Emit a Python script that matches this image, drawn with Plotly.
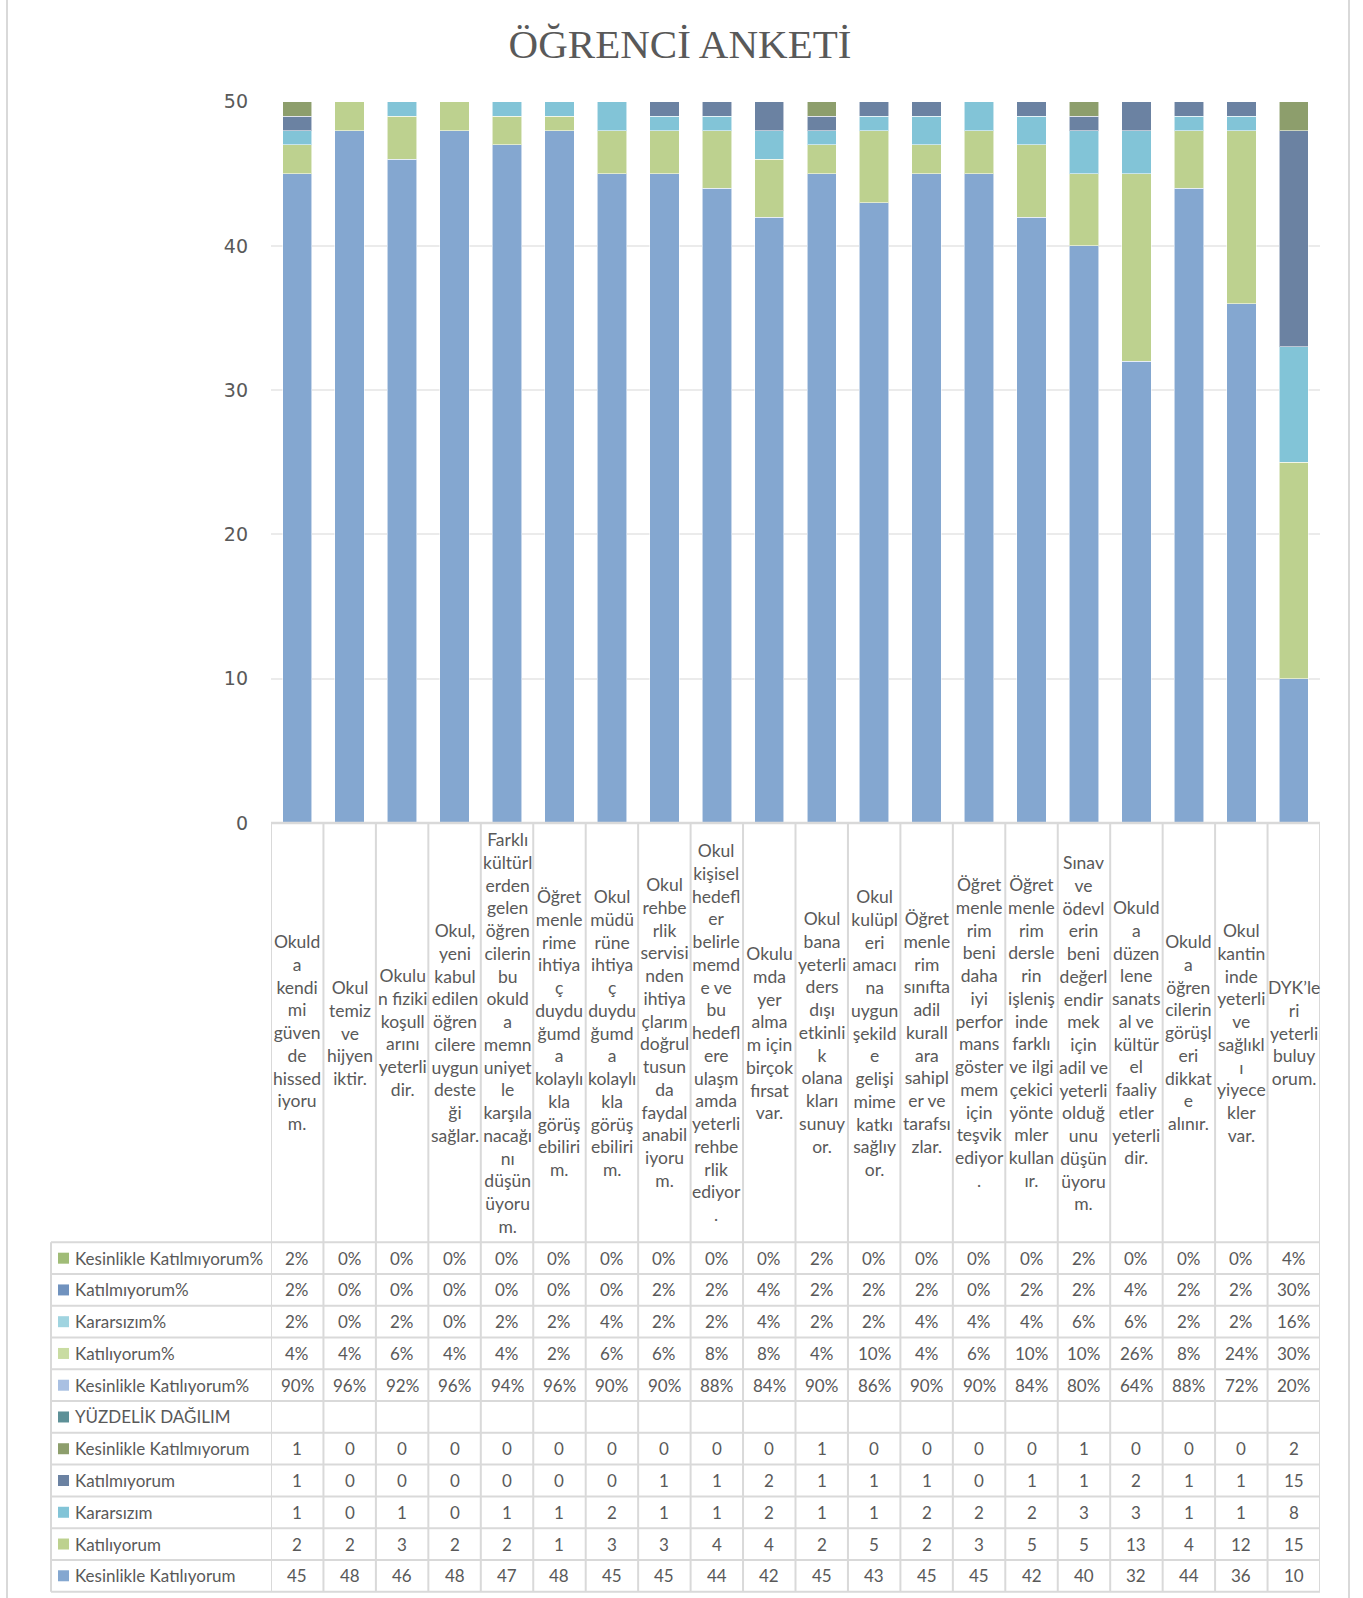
import plotly.graph_objects as go

# ---------------- data ----------------
categories = [
    "Okuld\na\nkendi\nmi\ngüven\nde\nhissed\niyoru\nm.",
    "Okul\ntemiz\nve\nhijyen\niktir.",
    "Okulu\nn fiziki\nkoşull\narını\nyeterli\ndir.",
    "Okul,\nyeni\nkabul\nedilen\nöğren\ncilere\nuygun\ndeste\nği\nsağlar.",
    "Farklı\nkültürl\nerden\ngelen\nöğren\ncilerin\nbu\nokuld\na\nmemn\nuniyet\nle\nkarşıla\nnacağı\nnı\ndüşün\nüyoru\nm.",
    "Öğret\nmenle\nrime\nihtiya\nç\nduydu\nğumd\na\nkolaylı\nkla\ngörüş\nebiliri\nm.",
    "Okul\nmüdü\nrüne\nihtiya\nç\nduydu\nğumd\na\nkolaylı\nkla\ngörüş\nebiliri\nm.",
    "Okul\nrehbe\nrlik\nservisi\nnden\nihtiya\nçlarım\ndoğrul\ntusun\nda\nfaydal\nanabil\niyoru\nm.",
    "Okul\nkişisel\nhedefl\ner\nbelirle\nmemd\ne ve\nbu\nhedefl\nere\nulaşm\namda\nyeterli\nrehbe\nrlik\nediyor\n.",
    "Okulu\nmda\nyer\nalma\nm için\nbirçok\nfırsat\nvar.",
    "Okul\nbana\nyeterli\nders\ndışı\netkinli\nk\nolana\nkları\nsunuy\nor.",
    "Okul\nkulüpl\neri\namacı\nna\nuygun\nşekild\ne\ngelişi\nmime\nkatkı\nsağlıy\nor.",
    "Öğret\nmenle\nrim\nsınıfta\nadil\nkurall\nara\nsahipl\ner ve\ntarafsı\nzlar.",
    "Öğret\nmenle\nrim\nbeni\ndaha\niyi\nperfor\nmans\ngöster\nmem\niçin\nteşvik\nediyor\n.",
    "Öğret\nmenle\nrim\ndersle\nrin\nişleniş\ninde\nfarklı\nve ilgi\nçekici\nyönte\nmler\nkullan\nır.",
    "Sınav\nve\nödevl\nerin\nbeni\ndeğerl\nendir\nmek\niçin\nadil ve\nyeterli\nolduğ\nunu\ndüşün\nüyoru\nm.",
    "Okuld\na\ndüzen\nlene\nsanats\nal ve\nkültür\nel\nfaaliy\netler\nyeterli\ndir.",
    "Okuld\na\nöğren\ncilerin\ngörüşl\neri\ndikkat\ne\nalınır.",
    "Okul\nkantin\ninde\nyeterli\nve\nsağlıkl\nı\nyiyece\nkler\nvar.",
    "DYK’le\nri\nyeterli\nbuluy\norum.",
]

kesinlikle_katiliyorum = [45, 48, 46, 48, 47, 48, 45, 45, 44, 42, 45, 43, 45, 45, 42, 40, 32, 44, 36, 10]
katiliyorum = [2, 2, 3, 2, 2, 1, 3, 3, 4, 4, 2, 5, 2, 3, 5, 5, 13, 4, 12, 15]
kararsizim = [1, 0, 1, 0, 1, 1, 2, 1, 1, 2, 1, 1, 2, 2, 2, 3, 3, 1, 1, 8]
katilmiyorum = [1, 0, 0, 0, 0, 0, 0, 1, 1, 2, 1, 1, 1, 0, 1, 1, 2, 1, 1, 15]
kesinlikle_katilmiyorum = [1, 0, 0, 0, 0, 0, 0, 0, 0, 0, 1, 0, 0, 0, 0, 1, 0, 0, 0, 2]

pct_kesinlikle_katilmiyorum = [2, 0, 0, 0, 0, 0, 0, 0, 0, 0, 2, 0, 0, 0, 0, 2, 0, 0, 0, 4]
pct_katilmiyorum = [2, 0, 0, 0, 0, 0, 0, 2, 2, 4, 2, 2, 2, 0, 2, 2, 4, 2, 2, 30]
pct_kararsizim = [2, 0, 2, 0, 2, 2, 4, 2, 2, 4, 2, 2, 4, 4, 4, 6, 6, 2, 2, 16]
pct_katiliyorum = [4, 4, 6, 4, 4, 2, 6, 6, 8, 8, 4, 10, 4, 6, 10, 10, 26, 8, 24, 30]
pct_kesinlikle_katiliyorum = [90, 96, 92, 96, 94, 96, 90, 90, 88, 84, 90, 86, 90, 90, 84, 80, 64, 88, 72, 20]

y_ticks = [0, 10, 20, 30, 40, 50]

# table rows, top to bottom: (label, values, suffix, swatch colour)
table_rows = [
    ("Kesinlikle Katılmıyorum%", pct_kesinlikle_katilmiyorum, "%", "#A0BC77"),
    ("Katılmıyorum%", pct_katilmiyorum, "%", "#7092BE"),
    ("Kararsızım%", pct_kararsizim, "%", "#A0D4E0"),
    ("Katılıyorum%", pct_katiliyorum, "%", "#C9DCA2"),
    ("Kesinlikle Katılıyorum%", pct_kesinlikle_katiliyorum, "%", "#A9C0E2"),
    ("YÜZDELİK DAĞILIM", None, "", "#5D9097"),
    ("Kesinlikle Katılmıyorum", kesinlikle_katilmiyorum, "", "#8D9E6C"),
    ("Katılmıyorum", katilmiyorum, "", "#6B82A2"),
    ("Kararsızım", kararsizim, "", "#82C4D7"),
    ("Katılıyorum", katiliyorum, "", "#BDD18F"),
    ("Kesinlikle Katılıyorum", kesinlikle_katiliyorum, "", "#84A7D0"),
]

# bar series, bottom to top
bar_series = [
    ("Kesinlikle Katılıyorum", kesinlikle_katiliyorum, "#84A7D0"),
    ("Katılıyorum", katiliyorum, "#BDD18F"),
    ("Kararsızım", kararsizim, "#82C4D7"),
    ("Katılmıyorum", katilmiyorum, "#6B82A2"),
    ("Kesinlikle Katılmıyorum", kesinlikle_katilmiyorum, "#8D9E6C"),
]

# ---------------- layout geometry (pixels) ----------------
W, H = 1363, 1598
def PX(x):
    return x / W
def PY(y):
    return 1 - y / H

PLOT_L, PLOT_R = 271, 1320
PLOT_T, PLOT_B = 101.7, 823
TABLE_L = 51
ROW_TOP = 1242.3
ROW_H = 31.76
TEXT = "#595959"
GRID = "#D9D9D9"
FONT = "Lato"

n = len(categories)
xs = list(range(n))

fig = go.Figure()
for name, vals, col in bar_series:
    fig.add_trace(go.Bar(
        x=xs, y=vals, name=name,
        marker=dict(color=col, line=dict(color="rgba(255,255,255,0.55)", width=1)),
    ))

shapes = []
annotations = []

# outer chart frame (left & right edges)
for xx in (7, 1349):
    shapes.append(dict(type="line", xref="paper", yref="paper",
                       x0=PX(xx), x1=PX(xx), y0=PY(-5), y1=PY(H + 5),
                       line=dict(color="#D9D9D9", width=2)))

# table: top line (axis line) across category area
shapes.append(dict(type="line", xref="x", yref="paper",
                   x0=-0.5, x1=n - 0.5, y0=PY(PLOT_B), y1=PY(PLOT_B),
                   line=dict(color=GRID, width=2.5)))
# vertical category boundaries
for k in range(n + 1):
    shapes.append(dict(type="line", xref="x", yref="paper",
                       x0=k - 0.5, x1=k - 0.5, y0=PY(PLOT_B), y1=PY(ROW_TOP + ROW_H * len(table_rows)),
                       line=dict(color=GRID, width=2)))
# legend column left border
shapes.append(dict(type="line", xref="paper", yref="paper",
                   x0=PX(TABLE_L), x1=PX(TABLE_L), y0=PY(ROW_TOP), y1=PY(ROW_TOP + ROW_H * len(table_rows)),
                   line=dict(color=GRID, width=2)))
# horizontal row lines
for r in range(len(table_rows) + 1):
    yy = PY(ROW_TOP + ROW_H * r)
    shapes.append(dict(type="line", xref="paper", yref="paper",
                       x0=PX(TABLE_L), x1=PX(PLOT_L), y0=yy, y1=yy,
                       line=dict(color=GRID, width=2)))
    shapes.append(dict(type="line", xref="x", yref="paper",
                       x0=-0.5, x1=n - 0.5, y0=yy, y1=yy,
                       line=dict(color=GRID, width=2)))

# category labels
cat_mid = (PLOT_B + ROW_TOP) / 2
for i, c in enumerate(categories):
    annotations.append(dict(x=i, xref="x", y=PY(cat_mid), yref="paper",
                            text=c.replace("\n", "<br>"), showarrow=False,
                            xanchor="center", yanchor="middle", align="center",
                            font=dict(family=FONT, size=17.5, color=TEXT)))

# table rows
for r, (label, vals, suffix, col) in enumerate(table_rows):
    yc = ROW_TOP + ROW_H * (r + 0.5)
    shapes.append(dict(type="rect", xref="paper", yref="paper",
                       x0=PX(58), x1=PX(69), y0=PY(yc - 5.5), y1=PY(yc + 5.5),
                       fillcolor=col, line=dict(width=0)))
    annotations.append(dict(x=PX(73), xref="paper", y=PY(yc), yref="paper",
                            text=label, showarrow=False, xanchor="left", yanchor="middle",
                            font=dict(family=FONT, size=17, color=TEXT)))
    if vals is not None:
        for i, v in enumerate(vals):
            annotations.append(dict(x=i, xref="x", y=PY(yc), yref="paper",
                                    text=f"{v}{suffix}", showarrow=False,
                                    xanchor="center", yanchor="middle",
                                    font=dict(family=FONT, size=17, color=TEXT)))

fig.update_layout(
    width=W, height=H, autosize=False,
    margin=dict(l=0, r=0, t=0, b=0, pad=0, autoexpand=False),
    paper_bgcolor="white", plot_bgcolor="white",
    barmode="stack", bargap=0.44,
    showlegend=False,
    title=dict(text="ÖĞRENCİ ANKETİ", x=PX(680), xanchor="center", y=PY(44), yanchor="middle",
               font=dict(family="Liberation Serif", size=41, color=TEXT)),
    xaxis=dict(domain=[PX(PLOT_L), PX(PLOT_R)], range=[-0.5, n - 0.5], automargin=False,
               showticklabels=False, showgrid=False, zeroline=False, showline=False, ticks=""),
    yaxis=dict(domain=[PY(PLOT_B), PY(PLOT_T)], range=[0, 50], tickvals=y_ticks, automargin=False,
               showgrid=True, gridcolor="#EBEBEB", gridwidth=1.5, zeroline=False, showline=False,
               ticks="", ticklabelstandoff=22,
               tickfont=dict(family="DejaVu Sans", size=19, color=TEXT)),
    shapes=shapes,
    annotations=annotations,
)

fig.write_html("out.html", config={"displayModeBar": False},
               post_script="document.body.style.margin='0px';")
